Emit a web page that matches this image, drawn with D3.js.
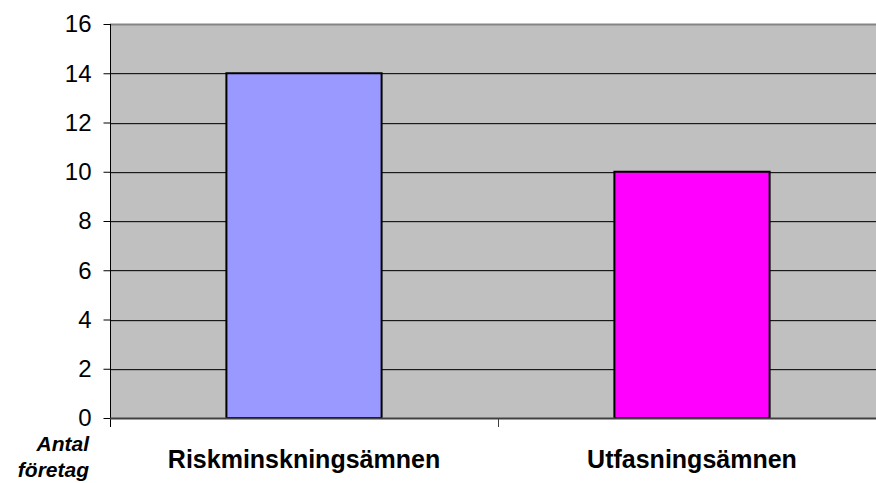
<!DOCTYPE html>
<html>
<head>
<meta charset="utf-8">
<script src="https://cdn.jsdelivr.net/npm/d3@7"></script>
<style>
  body { margin: 0; background: #fff; }
  svg { display: block; font-family: "Liberation Sans", Arial, sans-serif; }
</style>
</head>
<body>
<div id="chart"></div>
<script>
const categories = ["Riskminskningsämnen", "Utfasningsämnen"];
const values = [14, 10];
const colors = ["#9999ff", "#ff00ff"];
const yTicks = [0, 2, 4, 6, 8, 10, 12, 14, 16];
const yTitle = ["Antal", "företag"];

const width = 876;
const height = 483;
const margin = { top: 24, right: -10, bottom: 65, left: 110 };

const svg = d3
  .select("#chart")
  .append("svg")
  .attr("width", width)
  .attr("height", height)
  .attr("viewBox", [0, 0, width, height]);

const x = d3
  .scaleBand()
  .domain(categories)
  .range([margin.left, width - margin.right])
  .paddingInner(0)
  .paddingOuter(0);

const y = d3
  .scaleLinear()
  .domain([0, 16])
  .range([height - margin.bottom, margin.top]);

// plot background
svg
  .append("rect")
  .attr("x", margin.left)
  .attr("y", y(16))
  .attr("width", width - margin.right - margin.left)
  .attr("height", y(0) - y(16))
  .attr("fill", "#c0c0c0");

// gridlines
const grid = svg.append("g");
grid
  .selectAll("line.shadow")
  .data(yTicks.filter((d) => d > 0 && d < 16))
  .join("line")
  .attr("class", "shadow")
  .attr("x1", margin.left)
  .attr("x2", width)
  .attr("y1", (d) => Math.round(y(d)) + 1.5)
  .attr("y2", (d) => Math.round(y(d)) + 1.5)
  .attr("stroke", "#a0a0a0");
grid
  .selectAll("line.main")
  .data(yTicks.filter((d) => d > 0 && d < 16))
  .join("line")
  .attr("class", "main")
  .attr("x1", margin.left)
  .attr("x2", width)
  .attr("y1", (d) => Math.round(y(d)) + 0.5)
  .attr("y2", (d) => Math.round(y(d)) + 0.5)
  .attr("stroke", "#1a1a1a");

// top border
svg
  .append("line")
  .attr("x1", margin.left)
  .attr("x2", width)
  .attr("y1", y(16) + 0.5)
  .attr("y2", y(16) + 0.5)
  .attr("stroke", "#858585")
  .attr("stroke-width", 2);

// bars
const barW = x.bandwidth() * 0.4;
svg
  .append("g")
  .selectAll("rect")
  .data(categories)
  .join("rect")
  .attr("x", (d) => x(d) + (x.bandwidth() - barW) / 2)
  .attr("y", (d, i) => y(values[i]))
  .attr("width", barW)
  .attr("height", (d, i) => y(0) - y(values[i]))
  .attr("fill", (d, i) => colors[i])
  .attr("stroke", "#000")
  .attr("stroke-width", 2);

// y axis
svg
  .append("g")
  .attr("transform", `translate(${margin.left + 0.5},0)`)
  .call(d3.axisLeft(y).tickValues(yTicks).tickSize(7).tickPadding(12))
  .call((g) => g.select(".domain").attr("d", `M0,${y(16)}V${y(0) + 9}`))
  .attr("font-size", 24)
  .attr("font-family", null)
  .call((g) => g.selectAll(".tick text").attr("fill", "#000").attr("dy", "0.33em"));

// x axis
svg
  .append("line")
  .attr("x1", margin.left)
  .attr("x2", width)
  .attr("y1", y(0) + 0.5)
  .attr("y2", y(0) + 0.5)
  .attr("stroke", "#404040")
  .attr("stroke-width", 2);

svg
  .append("g")
  .selectAll("line")
  .data(categories.slice(1))
  .join("line")
  .attr("x1", (d) => x(d) + 0.5)
  .attr("x2", (d) => x(d) + 0.5)
  .attr("y1", y(0))
  .attr("y2", y(0) + 9)
  .attr("stroke", "#404040");

svg
  .append("g")
  .selectAll("text")
  .data(categories)
  .join("text")
  .attr("x", (d) => x(d) + x.bandwidth() / 2)
  .attr("y", y(0) + 50)
  .attr("text-anchor", "middle")
  .attr("font-size", 25)
  .attr("font-weight", "bold")
  .text((d) => d);

// axis title
svg
  .append("g")
  .selectAll("text")
  .data(yTitle)
  .join("text")
  .attr("x", 89)
  .attr("y", (d, i) => 451 + i * 26)
  .attr("text-anchor", "end")
  .attr("font-size", 21)
  .attr("font-weight", "bold")
  .attr("font-style", "italic")
  .text((d) => d);
</script>
</body>
</html>
